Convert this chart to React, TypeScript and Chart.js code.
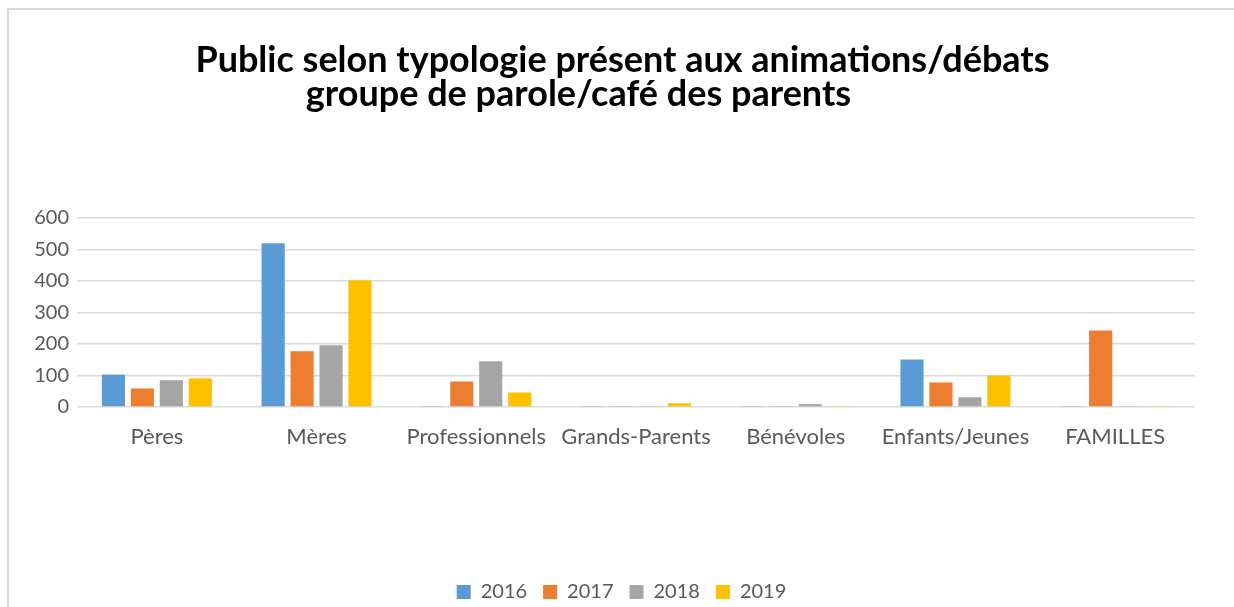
import React, { useEffect, useRef } from "react";
import { Chart, registerables } from "chart.js";

Chart.register(...registerables);

const categories = ["Pères", "Mères", "Professionnels", "Grands-Parents", "Bénévoles", "Enfants/Jeunes", "FAMILLES"];
const years = ["2016", "2017", "2018", "2019"];
const values2016 = [103, 520, 3, 3, 3, 151, 3];
const values2017 = [59, 177, 81, 3, 3, 78, 243];
const values2018 = [85, 196, 145, 3, 9, 31, 3];
const values2019 = [91, 402, 46, 12, 3, 100, 3];
const colors = ["#5B9BD5", "#ED7D31", "#A5A5A5", "#FFC000"];
const titleLines = ["Public selon typologie présent aux animations/débats", "groupe de parole/café des parents"];
const yTicks = [0, 100, 200, 300, 400, 500, 600];

const FONT = "Lato, 'Open Sans', sans-serif";

const titlePlugin = {
  id: "customTitle",
  afterDraw(chart: any) {
    const ctx = chart.ctx;
    const cx = chart.width / 2;
    ctx.save();
    ctx.fillStyle = "#000000";
    ctx.font = `bold 36px ${FONT}`;
    ctx.textAlign = "center";
    ctx.textBaseline = "alphabetic";
    ctx.fillText(titleLines[0], cx + 1, 62);
    ctx.fillText(titleLines[1], cx - 43, 96);
    ctx.restore();
  },
};

export default function App() {
  const ref = useRef<HTMLCanvasElement | null>(null);
  useEffect(() => {
    document.body.style.margin = "0";
    document.body.style.overflow = "hidden";
    if (!ref.current) return;
    const series = [values2016, values2017, values2018, values2019];
    const chart = new Chart(ref.current, {
      type: "bar",
      data: {
        labels: categories,
        datasets: years.map((y, i) => ({
          label: y,
          data: series[i],
          backgroundColor: colors[i],
          borderWidth: 0,
          categoryPercentage: 0.725,
          barPercentage: 0.8,
          yAxisID: "y",
        })),
      },
      plugins: [titlePlugin],
      options: {
        responsive: false,
        animation: false,
        devicePixelRatio: 1,
        layout: { padding: { top: 208, right: 0, left: 0, bottom: -5 } },
        plugins: {
          title: { display: false },
          tooltip: { enabled: false },
          legend: {
            position: "bottom",
            labels: {
              boxWidth: 14,
              boxHeight: 14,
              padding: 16,
              color: "#595959",
              font: { family: FONT, size: 20 },
            },
          },
        },
        scales: {
          x: {
            grid: { display: false, drawTicks: false },
            border: { display: false },
            ticks: { color: "#595959", font: { family: FONT, size: 22 }, padding: 17, maxRotation: 0, autoSkip: false },
            afterFit(scale: any) {
              scale.height = 159;
            },
          },
          y: {
            min: 0,
            max: 600,
            afterBuildTicks(scale: any) {
              scale.ticks = yTicks.map((v) => ({ value: v }));
            },
            grid: { color: "#D9D9D9", lineWidth: 1.5, drawTicks: false },
            border: { display: false },
            ticks: { color: "#595959", font: { family: FONT, size: 20 }, padding: 8 },
            afterFit(scale: any) {
              scale.width = 68;
            },
          },
          yRight: {
            position: "right",
            display: true,
            grid: { display: false, drawTicks: false },
            border: { display: false },
            ticks: { display: false },
            afterFit(scale: any) {
              scale.width = 39;
            },
          },
        },
      },
    });
    return () => chart.destroy();
  }, []);
  return (
    <div
      style={{
        position: "absolute",
        left: 7,
        top: 8,
        width: 1227,
        height: 599,
        boxSizing: "border-box",
        borderTop: "2px solid #D9D9D9",
        borderLeft: "2px solid #D9D9D9",
        background: "#fff",
      }}
    >
      <canvas ref={ref} width={1225} height={597} style={{ display: "block" }} />
    </div>
  );
}
